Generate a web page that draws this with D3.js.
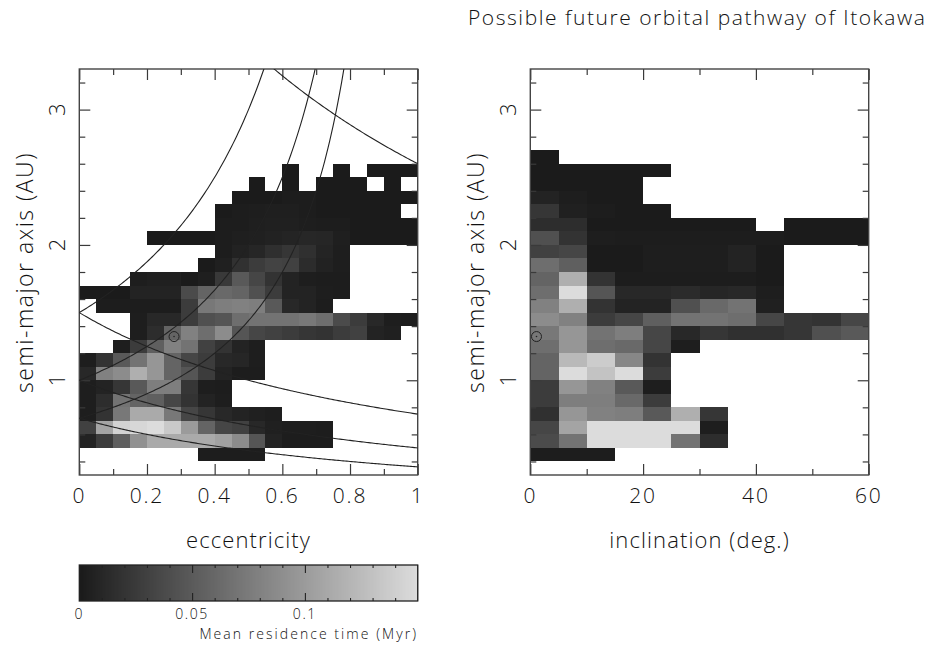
<!DOCTYPE html>
<html>
<head>
<meta charset="utf-8">
<script src="https://cdn.jsdelivr.net/npm/d3@7/dist/d3.min.js"></script>
<style>
html,body{margin:0;padding:0;background:#fff;overflow:hidden}
svg{display:block}
text{font-family:"Open Sans","Liberation Sans",sans-serif;font-weight:300;fill:#111}
</style>
</head>
<body>
<svg id="c" width="931" height="645"></svg>
<script>
const _ = null;
// residence time in 0.001 Myr; rows run from a = 2.6-2.7 AU down to a = 0.4-0.5 AU
const aBinLow = [2.6,2.5,2.4,2.3,2.2,2.1,2.0,1.9,1.8,1.7,1.6,1.5,1.4,1.3,1.2,1.1,1.0,0.9,0.8,0.7,0.6,0.5,0.4];
const eccGrid = [
[_,_,_,_,_,_,_,_,_,_,_,_,_,_,_,_,_,_,_,_],
[_,_,_,_,_,_,_,_,_,_,_,_,1,_,_,1,_,1,1,1],
[_,_,_,_,_,_,_,_,_,_,1,_,1,_,1,1,1,_,1,_],
[_,_,_,_,_,_,_,_,_,1,1,1,2,2,1,1,1,1,1,1],
[_,_,_,_,_,_,_,_,1,2,3,4,4,2,1,1,1,1,1,_],
[_,_,_,_,_,_,_,_,2,2,4,5,5,3,2,2,1,1,1,1],
[_,_,_,_,1,1,1,1,2,4,5,6,8,10,9,4,1,1,1,1],
[_,_,_,_,_,_,_,_,2,6,9,16,22,17,8,3,_,_,_,_],
[_,_,_,_,_,_,_,1,5,18,26,32,30,14,6,3,_,_,_,_],
[_,_,_,3,5,5,1,4,24,49,34,19,7,3,2,2,_,_,_,_],
[1,1,1,7,7,7,38,57,61,57,42,26,7,7,3,2,_,_,_,_],
[_,2,2,2,2,2,26,73,77,80,77,49,11,7,2,_,_,_,_,_],
[_,_,_,3,11,11,26,42,46,65,69,69,69,73,65,38,26,11,3,2],
[_,_,_,3,15,57,80,65,88,46,34,30,26,22,19,26,30,7,5,_],
[_,_,3,26,53,80,69,30,19,7,3,_,_,_,_,_,_,_,_,_],
[3,19,49,69,96,57,34,26,11,9,3,_,_,_,_,_,_,_,_,_],
[11,80,88,115,96,57,46,26,7,2,2,_,_,_,_,_,_,_,_,_],
[3,7,22,49,77,77,22,3,2,_,_,_,_,_,_,_,_,_,_,_],
[3,15,69,57,53,34,19,7,3,_,_,_,_,_,_,_,_,_,_,_],
[3,19,73,111,111,73,34,22,11,7,5,3,_,_,_,_,_,_,_,_],
[30,107,142,146,150,135,100,57,34,30,11,5,3,3,2,_,_,_,_,_],
[7,26,53,92,111,111,111,111,104,88,46,7,2,2,2,_,_,_,_,_],
[_,_,_,_,_,_,_,2,2,2,2,_,_,_,_,_,_,_,_,_]
];
const incGrid = [
[1,_,_,_,_,_,_,_,_,_,_,_],
[1,1,1,1,1,_,_,_,_,_,_,_],
[1,1,1,1,_,_,_,_,_,_,_,_],
[7,3,1,1,_,_,_,_,_,_,_,_],
[22,5,2,1,1,_,_,_,_,_,_,_],
[15,15,1,1,1,1,1,1,_,1,1,1],
[42,19,3,2,2,2,2,2,2,1,1,1],
[30,34,1,1,3,3,3,7,1,_,_,_],
[65,53,1,1,3,3,3,7,1,_,_,_],
[57,115,19,2,2,2,2,2,1,_,_,_],
[65,150,46,11,11,13,9,11,3,_,_,_],
[80,115,19,7,7,42,61,69,5,_,_,_],
[88,80,26,34,53,69,69,65,34,22,19,34],
[73,96,69,77,34,11,22,17,17,22,42,49],
[65,96,65,61,34,3,_,_,_,_,_,_],
[57,123,138,84,19,_,_,_,_,_,_,_],
[57,150,131,150,26,_,_,_,_,_,_,_],
[26,96,80,49,3,_,_,_,_,_,_,_],
[26,77,77,61,26,_,_,_,_,_,_,_],
[17,96,80,77,49,115,22,_,_,_,_,_],
[34,107,150,150,150,150,3,_,_,_,_,_],
[38,69,150,150,150,69,15,_,_,_,_,_],
[2,2,2,_,_,_,_,_,_,_,_,_]
];
const eccBinWidth = 0.05, incBinWidth = 5, aBinHeight = 0.1;
const perihelia = [0.72, 1, 1.5];      // a = q / (1 - e)
const aphelia = [0.72, 1, 1.5, 5.2];   // a = Q / (1 + e)
const itokawa = {e: 0.28, i: 1.1, a: 1.323};
const eccTicks = [0,0.2,0.4,0.6,0.8,1], eccMinor = [0.1,0.3,0.5,0.7,0.9];
const incTicks = [0,20,40,60], incMinor = [10,30,50];
const aTicks = [1,2,3], aMinor = [0.4,0.6,0.8,1.2,1.4,1.6,1.8,2.2,2.4,2.6,2.8,3.2];
const barTicks = [0,0.05,0.1], barMinor = [0.01,0.02,0.03,0.04,0.06,0.07,0.08,0.09,0.11,0.12,0.13,0.14];
const title = "Possible future orbital pathway of Itokawa";

const svg = d3.select("#c");
const ink = "#3a3a3a";
const gray = d3.scaleLinear().domain([0,150]).range([26,220]);
const col = v => { const g = Math.round(gray(v)); return `rgb(${g},${g},${g})`; };
const yS = d3.scaleLinear().domain([0.3,3.3]).range([475,69]);

function panel(x0,x1,xDomain,grid,binW,major,minor,fmt,xTitle){
  const xS = d3.scaleLinear().domain(xDomain).range([x0,x1]);
  const g = svg.append("g");
  const cells = g.append("g").attr("shape-rendering","crispEdges");
  grid.forEach((row,r)=>row.forEach((v,c)=>{
    if(v===null) return;
    const a = aBinLow[r];
    cells.append("rect")
      .attr("x",xS(c*binW)).attr("width",xS(binW)-xS(0))
      .attr("y",yS(a+aBinHeight)).attr("height",yS(a)-yS(a+aBinHeight))
      .attr("fill",col(v));
  }));
  const styl = s => { s.select(".domain").remove(); s.selectAll("line").attr("stroke",ink).attr("stroke-width",1.2); };
  const tick = (axis,scale,vals,size,tr) => g.append("g").attr("transform",tr)
      .call(axis(scale).tickValues(vals).tickSize(size).tickFormat("")).call(styl);
  tick(d3.axisTop,xS,major,-11,`translate(0,69)`);
  tick(d3.axisTop,xS,minor,-6,`translate(0,69)`);
  tick(d3.axisBottom,xS,major,-11,`translate(0,475)`);
  tick(d3.axisBottom,xS,minor,-6,`translate(0,475)`);
  tick(d3.axisLeft,yS,aTicks,-11,`translate(${x0},0)`);
  tick(d3.axisLeft,yS,aMinor,-6,`translate(${x0},0)`);
  tick(d3.axisRight,yS,aTicks,-11,`translate(${x1},0)`);
  tick(d3.axisRight,yS,aMinor,-6,`translate(${x1},0)`);
  g.append("rect").attr("x",x0).attr("y",69).attr("width",x1-x0).attr("height",406)
    .attr("fill","none").attr("stroke","#444").attr("stroke-width",1.4);
  // tick labels
  g.selectAll(null).data(major).join("text")
    .attr("x",d=>xS(d)).attr("y",503).attr("text-anchor","middle")
    .attr("font-size",21).attr("letter-spacing",1.8).text(fmt);
  g.selectAll(null).data(aTicks).join("text")
    .attr("transform",d=>`translate(${x0-14},${yS(d)}) rotate(-90)`)
    .attr("text-anchor","middle").attr("font-size",22).text(d=>d);
  g.append("text").attr("transform",`translate(${x0-46},272.5) rotate(-90)`)
    .attr("text-anchor","middle").attr("font-size",23).attr("letter-spacing",1.5).text("semi-major axis (AU)");
  g.append("text").attr("x",(x0+x1)/2).attr("y",548).attr("text-anchor","middle")
    .attr("font-size",22).attr("letter-spacing",1.1).text(xTitle);
  return {xS,g};
}

const L = panel(79.3,417.7,[0,1],eccGrid,eccBinWidth,eccTicks,eccMinor,d=>d,"eccentricity");
const R = panel(530.3,868.7,[0,60],incGrid,incBinWidth,incTicks,incMinor,d=>d,"inclination (deg.)");

// orbit-crossing curves (left panel)
const defs = svg.append("defs");
defs.append("clipPath").attr("id","lc").append("rect").attr("x",79.3).attr("y",69).attr("width",338.4).attr("height",406);
const eSamples = d3.range(0,1.0001,0.005);
const line = d3.line().x(d=>L.xS(d[0])).y(d=>yS(d[1]));
const curves = L.g.append("g").attr("clip-path","url(#lc)").attr("fill","none").attr("stroke","#222").attr("stroke-width",1.1);
perihelia.forEach(q=>curves.append("path").attr("d",line(eSamples.filter(e=>q/(1-e)<4).map(e=>[e,q/(1-e)]))));
aphelia.forEach(Q=>curves.append("path").attr("d",line(eSamples.map(e=>[e,Q/(1+e)]))));

// Itokawa marker
[[L.xS(itokawa.e),L.g],[R.xS(itokawa.i),R.g]].forEach(([cx,g])=>{
  g.append("circle").attr("cx",cx).attr("cy",yS(itokawa.a)).attr("r",5).attr("fill","none").attr("stroke","#222").attr("stroke-width",1);
  g.append("circle").attr("cx",cx).attr("cy",yS(itokawa.a)).attr("r",0.8).attr("fill","#222");
});

// title
svg.append("text").attr("x",468).attr("y",25).attr("font-size",21).attr("letter-spacing",1.55).text(title);

// colour bar
const bx = d3.scaleLinear().domain([0,0.15]).range([79.3,417.7]);
const bar = svg.append("g");
const barVals = d3.range(0,150,0.5);
bar.append("g").attr("shape-rendering","crispEdges").selectAll(null).data(barVals).join("rect")
  .attr("x",d=>bx(d/1000)).attr("width",bx(0.0005)-bx(0)+1)
  .attr("y",565).attr("height",36).attr("fill",d=>col(d));
const barStyle = s => { s.select(".domain").remove(); s.selectAll("line").attr("stroke","#222").attr("stroke-width",1.1); };
[[barTicks,8],[barMinor,3]].forEach(([vals,len])=>{
  bar.append("g").attr("transform","translate(0,565)").call(d3.axisTop(bx).tickValues(vals).tickSize(-len).tickFormat("")).call(barStyle);
  bar.append("g").attr("transform","translate(0,601)").call(d3.axisBottom(bx).tickValues(vals).tickSize(-len).tickFormat("")).call(barStyle);
});
bar.append("rect").attr("x",79.3).attr("y",565).attr("width",338.4).attr("height",36).attr("fill","none").attr("stroke","#222").attr("stroke-width",1.3);
bar.selectAll(null).data(barTicks).join("text").attr("x",d=>bx(d)).attr("y",619).attr("text-anchor","middle")
  .attr("font-size",14).attr("letter-spacing",1.6).text(d=>d);
bar.append("text").attr("x",418).attr("y",639).attr("text-anchor","end").attr("font-size",14).attr("letter-spacing",2.05).text("Mean residence time (Myr)");
</script>
</body>
</html>
